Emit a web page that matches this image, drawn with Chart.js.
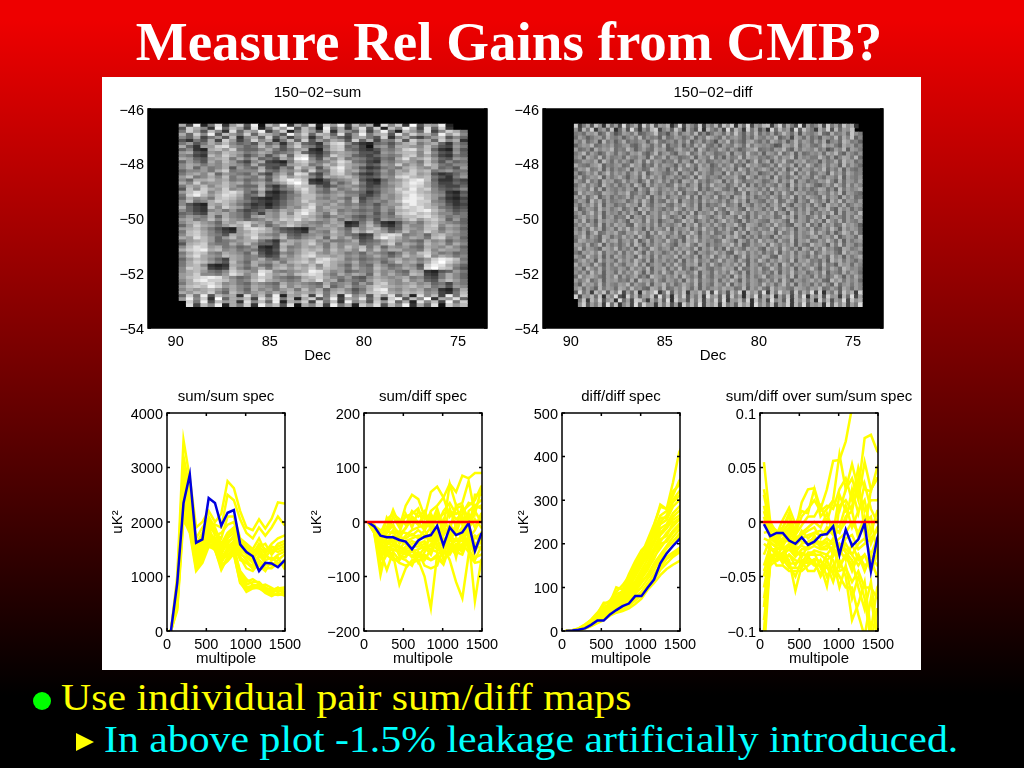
<!DOCTYPE html>
<html>
<head>
<meta charset="utf-8">
<title>Measure Rel Gains from CMB?</title>
<script src="https://cdn.jsdelivr.net/npm/chart.js@4"></script>
<style>
    html, body { margin: 0; padding: 0; }
    body {
        width: 1024px; height: 768px; overflow: hidden; position: relative;
        background: linear-gradient(#ee0000 0px, #ee0000 20px, #000000 695px);
        font-family: "Liberation Serif", serif;
    }
    #panel { position: absolute; left: 102px; top: 77px; width: 819px; height: 593px; background: #fff; }
    #heading {
        position: absolute; left: 0; top: 10px; width: 1018px; text-align: center;
        color: #fff; font-weight: bold; font-size: 55px; line-height: 64px; white-space: nowrap;
    }
    .line { position: absolute; font-size: 38px; line-height: 44px; white-space: nowrap; transform: scaleX(1.1); transform-origin: left top; }
    #line1 { left: 61px; top: 675px; color: #ffff00; }
    #line2 { left: 104px; top: 717px; color: #00ffff; }
    #dot { position: absolute; left: 33px; top: 692px; width: 18px; height: 18px; border-radius: 50%; background: #00ff00; }
    #arrow {
        position: absolute; left: 76px; top: 733px; width: 0; height: 0;
        border-left: 18px solid #ffff00; border-top: 9px solid transparent; border-bottom: 9px solid transparent;
    }
    canvas { position: absolute; }
</style>
</head>
<body>
<div id="panel"></div>
<div id="heading">Measure Rel Gains from CMB?</div>
<canvas id="mapSum" width="459" height="283" style="left:88px;top:83px"></canvas>
<canvas id="mapDiff" width="460" height="283" style="left:483px;top:83px"></canvas>
<canvas id="specSumSum" width="238" height="282" style="left:107px;top:387px"></canvas>
<canvas id="specSumDiff" width="238" height="282" style="left:304px;top:387px"></canvas>
<canvas id="specDiffDiff" width="238" height="282" style="left:502px;top:387px"></canvas>
<canvas id="specRatio" width="238" height="282" style="left:700px;top:387px"></canvas>
<div id="dot"></div>
<div class="line" id="line1">Use individual pair sum/diff maps</div>
<div id="arrow"></div>
<div class="line" id="line2">In above plot -1.5% leakage artificially introduced.</div>

<script>
// Tick labels
const specXTicks = [0, 500, 1000, 1500];
const sumSumTicks = [0, 1000, 2000, 3000, 4000];
const sumDiffTicks = [-200, -100, 0, 100, 200];
const diffDiffTicks = [0, 100, 200, 300, 400, 500];
const ratioTicks = [-0.1, -0.05, 0, 0.05, 0.1];
const mapLonTicks = [90, 85, 80, 75];
const mapLatTicks = [-54, -52, -50, -48, -46];

// Multipole bin centres, shared by all the spectra
const multipoles = [50, 130, 210, 290, 370, 450, 530, 610, 690, 770, 850, 930, 1010, 1090, 1170, 1250, 1330, 1410, 1490, 1570];

// Mean spectra (blue)
const sumSumMean = [0, 880, 2350, 2870, 1620, 1680, 2440, 2350, 1930, 2170, 2220, 1590, 1450, 1370, 1100, 1250, 1240, 1170, 1290, 1350];
const sumDiffMean = [0, -8, -25, -28, -28, -33, -36, -50, -34, -27, -24, -7, -43, -10, -24, -19, -2, -53, -22, -10];
const diffDiffMean = [0, 1, 3, 6, 14, 24, 24, 38, 48, 57, 63, 80, 80, 100, 118, 155, 178, 195, 210, 225];
const ratioMean = [-0.002, -0.013, -0.01, -0.01, -0.017, -0.02, -0.014, -0.021, -0.018, -0.012, -0.011, -0.004, -0.03, -0.007, -0.022, -0.016, -0.001, -0.045, -0.015, 0];

// Individual pair spectra (yellow)
const sumSumPairs = [
    [0, 1000, 3500, 2800, 1900, 2000, 2200, 2000, 2150, 2750, 2620, 2200, 1900, 1850, 2050, 1880, 2060, 2360, 2340, 2360],
    [0, 900, 3200, 2600, 1600, 1800, 2000, 1950, 1900, 2500, 2400, 2050, 1800, 1700, 1900, 1750, 1900, 2100, 1950, 1900],
    [0, 800, 2900, 2400, 1500, 1700, 1900, 1800, 1700, 2100, 2100, 1700, 1600, 1500, 1700, 1450, 1600, 1700, 1750, 1800],
    [0, 700, 2700, 2200, 1400, 1600, 2100, 1900, 1600, 1800, 1900, 1600, 1500, 1400, 1600, 1500, 1450, 1600, 1650, 1700],
    [0, 600, 2500, 2100, 1300, 1500, 1800, 1700, 1500, 1700, 1800, 1500, 1400, 1300, 1500, 1350, 1500, 1450, 1500, 1600],
    [0, 650, 2300, 2000, 1200, 1400, 1900, 1600, 1400, 1650, 1700, 1400, 1350, 1250, 1350, 1400, 1300, 1400, 1450, 1500],
    [0, 500, 2400, 1900, 1150, 1300, 1700, 1700, 1300, 1500, 1600, 1300, 1250, 1200, 1400, 1250, 1200, 1300, 1400, 1450],
    [0, 450, 2200, 2050, 1350, 1550, 1850, 1500, 1250, 1550, 1650, 1450, 1300, 1150, 1300, 1200, 1250, 1200, 1300, 1400],
    [0, 750, 3000, 2500, 1700, 1900, 2050, 1750, 1800, 1950, 2000, 1650, 1550, 1450, 1550, 1600, 1400, 1550, 1600, 1650],
    [0, 850, 2800, 2300, 1550, 1750, 1950, 1850, 1450, 1600, 1750, 1550, 1450, 1350, 1450, 1300, 1350, 1250, 1200, 1300],
    [0, 720, 2600, 2250, 1450, 1650, 2000, 1850, 1550, 1750, 1850, 1550, 1420, 1280, 1550, 1420, 1550, 1500, 1550, 1650],
    [0, 520, 2450, 2150, 1250, 1500, 1780, 1650, 1350, 1500, 1650, 1350, 1150, 1100, 1250, 1150, 1150, 1250, 1250, 1300],
    [0, 560, 2650, 2300, 1500, 1600, 1750, 1600, 1450, 1600, 1500, 1350, 1250, 1150, 1200, 1100, 1300, 1350, 1150, 1250],
    [0, 600, 2400, 2000, 1300, 1450, 1750, 1650, 1250, 1450, 1550, 1050, 900, 950, 870, 800, 730, 800, 720, 700],
    [0, 550, 2300, 1950, 1250, 1350, 1650, 1600, 1150, 1350, 1500, 1000, 850, 900, 900, 780, 760, 780, 800, 780],
    [0, 650, 2550, 2100, 1350, 1400, 1700, 1550, 1300, 1400, 1500, 1100, 950, 850, 820, 850, 790, 720, 780, 760],
    [0, 420, 2150, 1850, 1200, 1300, 1600, 1550, 1200, 1300, 1450, 950, 800, 830, 850, 750, 700, 750, 700, 720],
    [0, 480, 2250, 1900, 1180, 1280, 1620, 1480, 1180, 1280, 1420, 880, 760, 810, 780, 720, 680, 660, 680, 660],
    [0, 380, 2050, 1800, 1100, 1250, 1550, 1500, 1120, 1350, 1400, 900, 720, 780, 800, 700, 640, 700, 650, 640]
];
const sumDiffPairs = [
    [0, -5, -30, -20, 10, -10, 30, 50, 42, 10, 55, 65, 45, 70, 55, 85, 80, 90, 90, 92],
    [0, -8, -20, 5, 15, 5, -5, 20, 10, 20, -5, 25, -10, 70, 30, 35, 75, 15, 60, 70],
    [0, -10, -35, -10, 22, -5, 10, 15, 25, -10, 20, 30, 45, 10, 25, 30, -20, 50, 50, 50],
    [0, -12, -40, 8, -10, -20, 15, -10, 20, 5, 15, -5, 20, 35, 15, 20, 30, 40, 65, 70],
    [0, -7, -15, -12, -8, -22, -12, 10, 0, -15, 5, 5, 15, 20, 5, 15, 35, 30, 40, 45],
    [0, -15, -50, -20, -5, -30, -10, 5, -5, 15, -15, 15, -20, 25, -10, 30, 5, 25, 30, 35],
    [0, -15, -60, -30, -15, -40, -25, -15, -10, -5, 10, -30, 5, -15, 30, -5, 15, -10, 15, 20],
    [0, -6, -22, -18, -20, -18, -20, -25, -15, -25, -10, -20, -15, -15, -25, -10, -10, 5, -10, -5],
    [0, -18, -70, -40, -30, -50, -35, -30, -25, -30, -30, -10, -25, -5, -20, 10, -15, 20, 0, 10],
    [0, -9, -32, -38, -25, -28, -30, -22, -30, -15, -35, -35, -5, -30, -5, 5, -30, -15, 10, 15],
    [0, -20, -80, -60, -40, -60, -45, -40, -35, -50, -20, -45, -40, -35, -15, -30, -20, -30, -20, -10],
    [0, -14, -45, -48, -42, -45, -50, -45, -45, -40, -45, -15, -30, -45, -30, -35, -5, -40, -35, -20],
    [0, -20, -97, -45, -50, -55, -60, -55, -50, -45, -60, -30, -60, -30, -50, -20, -45, -25, -40, -30],
    [0, -18, -55, -88, -55, -70, -50, -65, -60, -70, -50, -55, -30, -50, -30, -50, -35, -55, -30, -40],
    [0, -16, -62, -52, -52, -52, -58, -62, -55, -65, -70, -60, -50, -20, -65, -15, -50, -70, -45, -40],
    [0, -15, -65, -50, -60, -115, -85, -70, -65, -60, -70, -65, -78, -45, -60, -40, -55, -40, -50, -55],
    [0, -11, -28, -42, -35, -62, -65, -48, -62, -48, -28, -40, -68, -55, -45, -55, 20, 30, 25, 30],
    [0, -12, -45, -55, -65, -75, -80, -75, -70, -100, -158, -60, -75, -40, -55, -60, -30, -145, -70, -60],
    [0, -10, -40, -60, -70, -65, -70, -80, -55, -80, -85, -80, -45, -70, -110, -140, -60, -75, -72, -70],
    [0, -8, -30, -35, -45, -45, -55, -50, -75, -55, -40, -50, -55, -60, -40, -45, -25, -65, -60, -50],
    [0, -10, -25, -25, -35, -35, -40, -35, -40, -35, -55, -25, -40, -25, -35, -25, -40, -50, -20, -25]
];
const diffDiffPairs = [
    [0, 2, 6, 15, 25, 40, 65, 65, 100, 95, 130, 160, 185, 200, 240, 290, 280, 340, 410, 440],
    [0, 1, 5, 14, 26, 42, 60, 70, 90, 105, 125, 155, 175, 210, 245, 285, 280, 310, 345, 360],
    [0, 2, 5, 13, 24, 38, 55, 62, 85, 90, 120, 150, 180, 195, 230, 265, 275, 320, 335, 350],
    [0, 1, 5, 12, 22, 35, 48, 60, 75, 88, 110, 140, 170, 190, 220, 250, 265, 300, 320, 330],
    [0, 1, 4, 12, 21, 34, 52, 58, 78, 92, 115, 145, 165, 185, 225, 260, 260, 295, 310, 320],
    [0, 1, 4, 11, 20, 33, 45, 55, 70, 85, 105, 135, 160, 180, 210, 245, 255, 285, 300, 310],
    [0, 1, 4, 10, 19, 30, 42, 52, 68, 80, 100, 125, 150, 175, 200, 235, 245, 270, 285, 295],
    [0, 1, 4, 10, 18, 30, 44, 54, 66, 82, 98, 128, 155, 170, 205, 225, 240, 262, 275, 285],
    [0, 1, 4, 9, 18, 28, 40, 50, 62, 75, 95, 115, 140, 165, 190, 220, 235, 255, 265, 275],
    [0, 1, 3, 8, 17, 26, 37, 48, 58, 68, 90, 110, 135, 155, 185, 210, 218, 248, 258, 270],
    [0, 1, 3, 9, 17, 27, 38, 47, 60, 70, 85, 105, 130, 150, 180, 205, 225, 240, 255, 265],
    [0, 1, 3, 8, 16, 25, 35, 45, 55, 65, 78, 98, 120, 140, 170, 190, 210, 230, 245, 250],
    [0, 1, 3, 8, 15, 25, 34, 43, 56, 64, 80, 100, 125, 145, 165, 200, 205, 225, 240, 248],
    [0, 1, 3, 7, 15, 24, 33, 44, 52, 62, 72, 90, 110, 130, 155, 175, 195, 215, 232, 240],
    [0, 1, 3, 7, 14, 23, 31, 41, 50, 60, 75, 92, 115, 125, 150, 170, 190, 205, 222, 232],
    [0, 1, 3, 7, 14, 22, 30, 42, 48, 58, 68, 85, 100, 120, 140, 165, 180, 195, 215, 225],
    [0, 0, 3, 6, 13, 21, 28, 40, 46, 54, 62, 78, 90, 110, 130, 150, 170, 180, 190, 195],
    [0, 0, 3, 6, 12, 19, 26, 36, 45, 52, 60, 74, 88, 105, 125, 145, 165, 175, 185, 190],
    [0, 0, 2, 6, 12, 20, 27, 38, 44, 50, 58, 70, 82, 100, 118, 140, 155, 170, 180, 185],
    [0, 0, 2, 5, 11, 18, 25, 35, 42, 46, 52, 62, 74, 95, 110, 128, 142, 152, 160, 165]
];
const ratioPairs = [
    [0.055, 0, -0.01, -0.005, 0.005, -0.008, 0.018, 0.03, 0.031, 0.012, 0.03, 0.056, 0.057, 0.074, 0.105, 0.12, 0.13, 0.14, 0.15, 0.15],
    [0.025, -0.005, -0.012, 0.002, 0.013, -0.002, 0.01, 0.008, 0.03, 0.005, 0.012, 0.02, 0.062, 0.03, 0.053, 0.03, 0.077, 0.08, 0.065, 0.06],
    [0.01, -0.01, -0.015, -0.005, 0.008, -0.01, 0.005, 0.012, 0.02, 0.01, 0.015, 0.012, 0.03, 0.04, 0.02, 0.05, 0.03, 0.028, 0.05, 0.06],
    [-0.01, -0.008, -0.018, -0.01, 0, -0.012, -0.003, 0.005, 0.005, 0.015, 0, 0.02, 0.01, 0.03, 0.04, 0.02, 0.055, 0.03, 0.04, 0.045],
    [0.015, -0.012, -0.014, -0.016, -0.018, -0.026, -0.032, -0.022, -0.018, -0.022, -0.018, -0.03, 0.015, 0.02, 0.01, 0.04, -0.01, 0.03, 0.04, 0.04],
    [-0.03, -0.015, -0.02, -0.015, -0.008, -0.018, -0.01, -0.005, 0, -0.005, 0.008, -0.01, 0.025, 0.01, 0.015, 0.03, 0.01, 0.02, 0.02, 0.025],
    [0.005, -0.015, -0.018, -0.008, -0.002, -0.014, -0.012, -0.008, -0.005, -0.015, -0.005, -0.012, -0.008, 0, 0.03, 0.008, 0.035, 0.012, 0, 0.005],
    [-0.05, -0.02, -0.022, -0.02, -0.015, -0.022, -0.015, -0.012, -0.01, -0.012, -0.008, 0, -0.005, 0.015, -0.005, 0.01, 0.02, -0.01, 0.01, 0.01],
    [-0.078, -0.025, -0.025, -0.025, -0.02, -0.028, -0.02, -0.018, -0.015, -0.02, -0.015, -0.02, -0.015, -0.01, 0, -0.01, 0.005, -0.02, -0.005, 0],
    [-0.015, -0.018, -0.024, -0.022, -0.012, -0.024, -0.022, -0.024, -0.012, -0.024, -0.022, -0.025, -0.028, -0.015, -0.012, -0.025, -0.02, -0.015, -0.008, -0.01],
    [-0.105, -0.03, -0.03, -0.03, -0.025, -0.032, -0.025, -0.025, -0.022, -0.025, -0.025, -0.015, -0.03, -0.02, -0.03, -0.02, -0.015, -0.03, -0.015, -0.012],
    [-0.04, -0.022, -0.032, -0.028, -0.022, -0.03, -0.028, -0.032, -0.026, -0.028, -0.03, -0.022, -0.042, -0.03, -0.04, -0.03, -0.045, -0.03, -0.04, -0.04],
    [-0.12, -0.035, -0.03, -0.035, -0.03, -0.04, -0.03, -0.03, -0.03, -0.03, -0.035, -0.03, -0.025, -0.035, -0.02, -0.035, -0.03, -0.045, -0.03, -0.03],
    [-0.09, -0.04, -0.035, -0.03, -0.035, -0.063, -0.04, -0.035, -0.04, -0.04, -0.059, -0.025, -0.04, -0.03, -0.045, -0.03, -0.04, -0.035, -0.05, -0.05],
    [-0.07, -0.035, -0.036, -0.032, -0.038, -0.038, -0.035, -0.038, -0.034, -0.036, -0.042, -0.045, -0.045, -0.042, -0.055, -0.045, -0.06, -0.06, -0.07, -0.07],
    [-0.06, -0.03, -0.04, -0.04, -0.045, -0.045, -0.045, -0.04, -0.035, -0.05, -0.04, -0.055, -0.035, -0.05, -0.09, -0.075, -0.055, -0.1, -0.06, -0.05],
    [-0.1, -0.038, -0.026, -0.034, -0.042, -0.042, -0.042, -0.032, -0.038, -0.048, -0.035, -0.048, -0.02, -0.028, -0.035, -0.06, -0.08, -0.055, -0.1, -0.11],
    [-0.045, -0.03, -0.035, -0.02, -0.04, -0.05, -0.035, -0.045, -0.045, -0.035, -0.05, -0.04, -0.05, -0.06, -0.06, -0.085, -0.105, -0.07, -0.105, -0.1],
    [-0.02, -0.025, -0.028, -0.038, -0.03, -0.035, -0.038, -0.028, -0.028, -0.042, -0.03, -0.035, -0.06, -0.04, -0.07, -0.05, -0.07, -0.11, -0.08, -0.08],
    [0, -0.012, -0.02, -0.018, -0.01, -0.015, -0.018, -0.02, -0.02, -0.018, -0.02, -0.02, -0.02, -0.025, -0.03, -0.04, -0.03, -0.04, -0.03, -0.035],
    [0.03, -0.003, -0.008, -0.012, -0.005, -0.02, -0.008, -0.015, -0.01, -0.008, -0.012, -0.005, -0.01, 0.005, 0.01, -0.015, 0, 0.005, -0.03, -0.02]
];

// Map grey levels, one hex digit per cell, 0 is no data (hand estimates of the picture)
const sumMapRows = [
    "a4e27d39c5e1b8f3a6d2c9e4b7a1d8c3f5a9e200",
    "5ca83e6b94d27c9e5b81e6a39d5c2b8ea4d6c300",
    "7c95b83d6a9e48c27b95d3a86c49e72b96d48ca7",
    "a6c8e5b97c6ba85e9c6ba6d59e7ab5d8c9a7e9c8",
    "86a4795b38a6c5948a37b8649a75c38a6479b586",
    "5375a4c947c8a37b6c597a95c6a487b5c9a6c8a3",
    "7957a8b8675a6838b6539cd85326758ab79a6386",
    "a6399cd9867b8a59c8747bc6741896aa98b85497",
    "6832ab9c7668a7579a328bc76435879cd9b63285",
    "9a5498ba978a9678b64369a9855498abb8c85496",
    "8743b9ca857958b6cd647ca96546878bc8a74376",
    "a9659ab7a7a675a8ef85a8b7875476ad9ac96598",
    "6975a8b9648a4327bc978adb7643879a97b85867",
    "8a9798a986a65549ab78b9ca985698c8a8ca7688",
    "8a6978a5976a5486c9a59cea8534787ab98a6759",
    "68897ac7888b7698a7c77bd9a75697a9cab78977",
    "79a8b698769648a7dc648bc9743587abc9a53468",
    "9b78a8b7987a69c9ba85a9ab965698cdbab75379",
    "86aab9a786785acedb325789a532689bdeb63354",
    "a8c899b9a79a78adfc434968b74379aceda74465",
    "7a9b8ab9766a5369cba64689864578acdca75446",
    "5b8ca9c8978b7478bda86a78a75689cbebc86568",
    "9bdc8acdb75932469ca76897763589bddba87325",
    "7ceb9bdca67a43578bb989a8854698acecb98436",
    "6a897bcb964323579bb87986a46798adedb96324",
    "8b78acba875434689ca998a7b57879beecc87435",
    "8532a9b9753424689ac98a878675899cecb98534",
    "a643b8ca964535798bd8a998978698bdcdba7645",
    "86438979645687a9bdc89a78767697abcdeb9756",
    "6754a9a8757498b8ceb97b89878586bcdbca8867",
    "7987a6a8759a98bacba868986576879bbcdb9787",
    "9a78b8b98678a9cbdab98a797685988ac9bca696",
    "8ab986a9bca97a9ba9878a9237a6325897ab9876",
    "69ca979bad8a68aca898a9a348b8436a88bc8a97",
    "9ab975329cdca75432799a86a8ab856a98bb7986",
    "7bca86439acba86543987b97b9ca968b89ca8a97",
    "8bca875a9bc987a657898a97634acdc7896ab987",
    "a9db969b8adaa8b7689a6b8a745beca8a97bc896",
    "79ab96789aa7538a9ab89778a5679b9876a89687",
    "5abc877a8b8664ba8ac97a899678ac7a97b9a7a8",
    "8bdc9a78679324a78a9a7a8b9b7a698976a98a86",
    "acdeab89787435b89bab8b9a8c8b8aa887b8a997",
    "7acb87a986a534879bc98a978698757a8bc97867",
    "8bda98ba978645a8acdaa9a8978a868b9ad8a978",
    "69ba864a978a7689ab9cdba7867879a8979cedb7",
    "7acb975b86a98a7abcadca98a78968b9a8adfca8",
    "7ab8323a97a769a8a9b8ca86976a867985ceda86",
    "8cba434b868a7ab9bac9ba97a87b978a96dfcb75",
    "8ab9768ca98dc8789aeda896787a8976a9325697",
    "9ac8879db8aeb9a8bcdc97a8a96b8a87ba437a86",
    "9bcdeda867acb8767abca879658a989a78547a86",
    "8adeccb978bda9878bad9a68769ba98b89659b97",
    "7abcdb89769876a89876a789697bc989a8967487",
    "9bcbec9a87a987b8a987b68a78acba9ab9a78598",
    "8a9ab97a86a8979a7b8a69a857ade98a9a78326a",
    "a9bac86b979a8a8b9a9b7ab968bcda9bab89437b",
    "6c7e5b9a3d8b6e2a9c4d7b3e8a5c9d6a2d8b4e7c",
    "9e8c3f6a9b4d9e7b2ac58e4a9d6b3ce5b8f3a9d6",
    "0c7e5b9a3d8b6e2a9c4d7b3e8a5c9d6a2d8b4e7c",
    "0d4b8e2a7c3e9b5d1a8c4e7a2c9d5b8e3a6d1c9b"
];
const diffMapRows = [
    "e27b4d91c6a3f58b2e7d4a9c16f3b85e2a7c4d9e1b6f3a8cd29e5b73f1a68c3e7a5d9b10",
    "93c7e28a5d16b4f7296ce38a5d92b74e1c86a3f5c92e7b481e6c8a3f5d972b8e4c6a9d00",
    "786a9b57c846a97b5689d6748b69a7c5847a96b7d85a7c697a58c96b4a879c65b78a6d97",
    "6a8579a6b87958a7c69785b67a968b597ca86b79a8596b87a8c5793b96a685a97c6b8d58",
    "97b68a4c7958b6879a59c76896a7b58a6974a8c6975ab8696b97a58c7a96a7b4896ca785",
    "58a9c6798a679a658b96a7c587a596b8c7695a87b96c7a989745ba8c69a768c9a75b9a68",
    "a6795b8a9c687c958a76b9a569b87a5c9687b96a8579ac6786a9c75b7a98b7946a8c5a97",
    "79c6a857b96a86a9b758c69a75a9c68b7a9678b5a96c87a5a97c68b5a6798a6b9c75a869",
    "8a5b97c6a7896b87a95c78b6a9678b5a97c695a78c6b9a7868b7a9c5a8977c96a58ba7c6",
    "67a98b5c96a7a859b6c7a9687b6a95c8a6798a96b7a58c69b5a8c76a9b7895a78b6c9a68",
    "b8769ac5879a67c9a586b7a985a7c96b8a57a79b685c9a867a6c98b5a7c968b7a95c7a86",
    "6a9c78b5a6978b5a967ca895a6c8795ba9687b8a5c96a79b96a7b58c6a97a8c697b5a768",
    "957a8b69c7a8a69b7c58a9768b5a96c7a86995c7a8b69a578a6b97c5a8b67a95c8a6b978",
    "7b68a9c5a79b859a6c7b8a69a7968b5ca7986a89b75c96a8a5c7968b7a96b86a97c5a879",
    "a86c795b9a67b7a958c69b7a695ba8c7968ab5a7c9688a9679b6a8c5a9687a9c85b6a97a",
    "69b7a85c97a68a6c95b7a8967c8a69b5a7c89a68b7c5a697a86b95c7a8b9658a7c96b7a8",
    "8a97c6b5a8797a95b86ca79a8b67a9c5968ba7695c8ba97a6c8a97b5a7968ba695c7a89b",
    "5c8a976ba97a9c67a85b96a8a7c5986b7a968b9a67c5a8b795a7c86b9a786a97b8c5a976",
    "a7b69c58a6978b6a97c5a8b69a78c6b5a97c68a5b9c7a6897b96a8c5a7b986c7a95b8a67",
    "7a95c8b6a789a68b7c95a76b8c5a97a6b8a97a69c8b5a976a8c67b95a86c97a5b8c6a97a",
    "96a8b7c5a9687b9a5c86a9b76a8c97b5a6879c78a5b96a8a69b7c85a97a6b85c9a7b68a9",
    "b57a96c8a79b68a5c9b7a8697c96a8b5a97c86b9a75c8a96a7c85b96a7b86a9c75b8a697",
    "8a69c7b5a896a7b85c69a7a8b96a7c5a89b6a75c98b6a79a8b6a95c7a8b697a8c5b6a97c",
    "69b8a7c59a687c5a96b8a7c968a5b97ca869b7a96c85a7b89a67c8b5a968b7c59a86a7b9",
    "a7c695b8a97a85b9a6c7a589a67c9b58a7a69c8a75b69a876b9a85c7a96b8a5c97b6a87a",
    "7a8b96c5a7b9a65c98a7b6a879b5a8c69a7b86a9c75ba968a7c8965ba7c695b8a67c9a85",
    "96a7c8b59a6b8c7a95b6a97c5a89b6a7c896a7b85a6c97a87c69b8a5a97b68a7c95b8a96",
    "a8b59c67a9b76a9c8a5b7ca97b6a8c95a8b679a6c8b5a97b9a5c78b6a89c7b96a58ca7b6",
    "79c6a85ba697b8a6c957a8b69a75c8b6a978a6b9c85a7a6985b7a9c6a87ab69a7c58a96b",
    "6ba8975c8ab69a7c58b6a97c86a5b9c7a8967ca85b96a7c8a96b87c5a9b67a8c96b5a79a",
    "a97b68c5a7968b6c95a7a8b975a9c86ba6978a9c7b56a89b6c97a8b5a76c9a85b7c6a968",
    "8c6a975ba8c697a5b86ca79a6b8a97c5a8b695c7a86b9a75b8a6c97a5b96a7c8965ba78a",
    "75a9b8c6a97b6a8c95b7a968a7b6c85a979b8a65c9b7a8a697c5a8b6a97c68b9a75c8a97",
    "a86c97b5a6b97a95c8a6b7a98c6a97b5a8c69b7a58c6a97ba65c98b7a86a7b96c8a5a79b",
    "69b8a5c7a96b8a7c96b5a8a796b5a8c79a68c7a96b85a7c96a8b97c5a9b786a5c9b7a869",
    "b7a96c85a7b86a9c7b58a96a7c86a9b5a7c869a8b7c5a968b7a5c96a8b97a6c785b9a6a8",
    "8a5c97b6a87a96b8a7c5a9b6a7c6958ba7698b9a5c67a8b67c96a8b5a79c85a7b96ca897",
    "97a6c8b5a96b7a8c95b6a7c86b9a78c5a96b8a7c96b5a8a796b5a8c79a68a7c5986b7a96",
    "6c8ab975a8c6a79b685ca97a8b6c97a5b86a97a5c8b6a79c68a9b7c5a896b7a68c95a7b8",
    "a79c68b5a9a786b5c9a7b86a97a5b8c6a97b6a8c95b7a968a7b6c85a979b8a65c9b7a8a6",
    "85b9a7c6a87a9c6a87b5a9c7a68b97c5a86b97c5a8b6a97c8a69c7b5a896a7b85c69a7a8",
    "9b6a85c7a96ba7c8965ba7c67a8c96b5a79a8b9a67c5a8b75c8a976ba97a9c67a85b96a8",
    "4e7a2c9d5b8e3a6d1c9bf27e5b8d2a9c6e3f7a4c8e1d9b5f2c7e9a4d6b8f3e1a7c5d9b2e",
    "e3a9c6d1b8f42e7c5a9d3f6b1d8e4a7c2f9b5e3d7a1c8f4b9e2a6d3c7f1b8d4e9a2c6f3a",
    "07d2c8e49b1f6a3ed82b7c5f1e9a4c7d3b8e5f2a9c6e1d7b3f8a5e2c9d6b1e7c4a8f3d9b",
    "09e4a7c2f6d18b3f5e9a2c7d4a1e8c6f3b9d2e7a5d9c1f8b6d3a8e2c7f4a9b1e5d8c3a7f"
];

const FONT_FAMILY = '"Liberation Sans", Arial, sans-serif';

// Matlab style box with inward ticks, positions come from the chart scales
const boxTicks = {
    id: 'boxTicks',
    afterDatasetsDraw(chart) {
        const { ctx, chartArea: a, scales } = chart;
        const tick = 3;
        ctx.save();
        ctx.strokeStyle = '#000';
        ctx.lineWidth = 1.5;
        ctx.strokeRect(a.left, a.top, a.right - a.left, a.bottom - a.top);
        ctx.beginPath();
        scales.x.ticks.forEach(t => {
            const px = scales.x.getPixelForValue(t.value);
            ctx.moveTo(px, a.bottom); ctx.lineTo(px, a.bottom - tick);
            ctx.moveTo(px, a.top); ctx.lineTo(px, a.top + tick);
        });
        scales.y.ticks.forEach(t => {
            const py = scales.y.getPixelForValue(t.value);
            ctx.moveTo(a.left, py); ctx.lineTo(a.left + tick, py);
            ctx.moveTo(a.right, py); ctx.lineTo(a.right - tick, py);
        });
        ctx.stroke();
        ctx.restore();
    }
};

// Black frame behind the map cells
const blackArea = {
    id: 'blackArea',
    beforeDatasetsDraw(chart) {
        const { ctx, chartArea: a } = chart;
        ctx.save();
        ctx.fillStyle = '#000';
        ctx.fillRect(a.left, a.top, a.right - a.left, a.bottom - a.top);
        ctx.restore();
    }
};

function minusLabel(v) {
    return String(v).replace('-', '\u2212');
}

function axis(min, max, tickValues, fitSize, extra) {
    return Object.assign({
        type: 'linear',
        min: min,
        max: max,
        offset: false,
        grid: { display: false, drawTicks: false },
        border: { display: false },
        afterBuildTicks: scale => { scale.ticks = tickValues.map(v => ({ value: v })); },
        ticks: {
            autoSkip: false,
            maxRotation: 0,
            padding: 4,
            color: '#000',
            font: { family: FONT_FAMILY, size: 14.5 },
            callback: minusLabel
        }
    }, fitSize, extra);
}

function axisTitle(text, padding) {
    return {
        display: true,
        text: text,
        color: '#000',
        padding: padding,
        font: { family: FONT_FAMILY, size: 15, lineHeight: '16px' }
    };
}

function baseOptions(titleText, xScale, yScale) {
    yScale.ticks.labelOffset = 1.5;
    xScale.ticks.padding = 5;
    return {
        responsive: false,
        animation: false,
        layout: { autoPadding: false, padding: 0 },
        plugins: {
            legend: { display: false },
            tooltip: { enabled: false },
            title: {
                display: true,
                text: titleText,
                color: '#000',
                padding: { top: 2, bottom: 8 },
                font: { family: FONT_FAMILY, size: 15, weight: 'normal', lineHeight: '16px' }
            }
        },
        scales: {
            x: xScale,
            y: yScale,
            // empty right axis, keeps the plot centred under the title
            y2: {
                type: 'linear',
                position: 'right',
                grid: { display: false, drawTicks: false },
                border: { display: false },
                ticks: { display: false },
                afterFit: scale => { scale.width = 60; }
            }
        }
    };
}

const fitBottom = { afterFit: scale => { scale.height = 38; } };
const fitLeft = { afterFit: scale => { scale.width = 60; } };

// Spectrum panels
function drawSpectrum(id, titleText, mean, pairs, yMin, yMax, yTicks, yTitle, showZero) {
    const toPoints = values => multipoles.map((x, i) => ({ x: x, y: values[i] }));
    const line = (data, color) => ({
        data: data,
        borderColor: color,
        borderWidth: 2.5,
        pointRadius: 0,
        showLine: true,
        tension: 0,
        clip: 0
    });

    // first dataset is drawn on top
    const datasets = [];
    if (showZero) {
        datasets.push(line([{ x: 0, y: 0 }, { x: 1500, y: 0 }], '#ff0000'));
    }
    datasets.push(line(toPoints(mean), '#0000e0'));
    pairs.forEach(p => datasets.push(line(toPoints(p), '#ffff00')));

    const xScale = axis(0, 1500, specXTicks, fitBottom, { title: axisTitle('multipole', { top: 0, bottom: 2 }) });
    const yExtra = yTitle ? { title: axisTitle('uK\u00B2', yTitle) } : {};
    const yScale = axis(yMin, yMax, yTicks, fitLeft, yExtra);

    new Chart(document.getElementById(id), {
        type: 'scatter',
        data: { datasets: datasets },
        options: baseOptions(titleText, xScale, yScale)
    });
}

// Map panels, every cell is a floating bar on the lon/lat scales
function drawMap(id, titleText, rows, lonMin, lonMax, contrast) {
    const lonFrom = 89.82, lonTo = 74.5, latFrom = -46.55, latTo = -53.22;
    const cols = rows[0].length;
    const dLon = (lonTo - lonFrom) / cols;
    const dLat = (latTo - latFrom) / rows.length;
    const cells = [];
    const greys = [];
    rows.forEach((row, r) => {
        for (let c = 0; c < cols; c++) {
            const level = parseInt(row[c], 16);
            if (!level) continue;
            const grey = Math.round(128 + (level - 7.5) * contrast);
            cells.push({ x: lonFrom + (c + 0.5) * dLon, y: [latFrom + (r + 1) * dLat, latFrom + r * dLat] });
            greys.push(`rgb(${grey},${grey},${grey})`);
        }
    });

    const xScale = axis(lonMin, lonMax, mapLonTicks, fitBottom, {
        reverse: true,
        title: axisTitle('Dec', { top: 0, bottom: 2 })
    });
    const yScale = axis(-54, -46, mapLatTicks, fitLeft);

    new Chart(document.getElementById(id), {
        type: 'bar',
        data: { datasets: [{
            data: cells,
            backgroundColor: greys,
            borderWidth: 0,
            grouped: false,
            barPercentage: 1,
            categoryPercentage: 1
        }] },
        options: baseOptions(titleText, xScale, yScale),
        plugins: [blackArea]
    });
}

Chart.register(boxTicks);

drawMap('mapSum', '150\u221202\u2212sum', sumMapRows, 73.46, 91.47, 17);
drawMap('mapDiff', '150\u221202\u2212diff', diffMapRows, 73.4, 91.48, 12);
drawSpectrum('specSumSum', 'sum/sum spec', sumSumMean, sumSumPairs, 0, 4000, sumSumTicks, { top: 3, bottom: 0 }, false);
drawSpectrum('specSumDiff', 'sum/diff spec', sumDiffMean, sumDiffPairs, -200, 200, sumDiffTicks, { top: 5, bottom: 0 }, true);
drawSpectrum('specDiffDiff', 'diff/diff spec', diffDiffMean, diffDiffPairs, 0, 500, diffDiffTicks, { top: 14, bottom: 0 }, false);
drawSpectrum('specRatio', 'sum/diff over sum/sum spec', ratioMean, ratioPairs, -0.1, 0.1, ratioTicks, null, true);
</script>
</body>
</html>
